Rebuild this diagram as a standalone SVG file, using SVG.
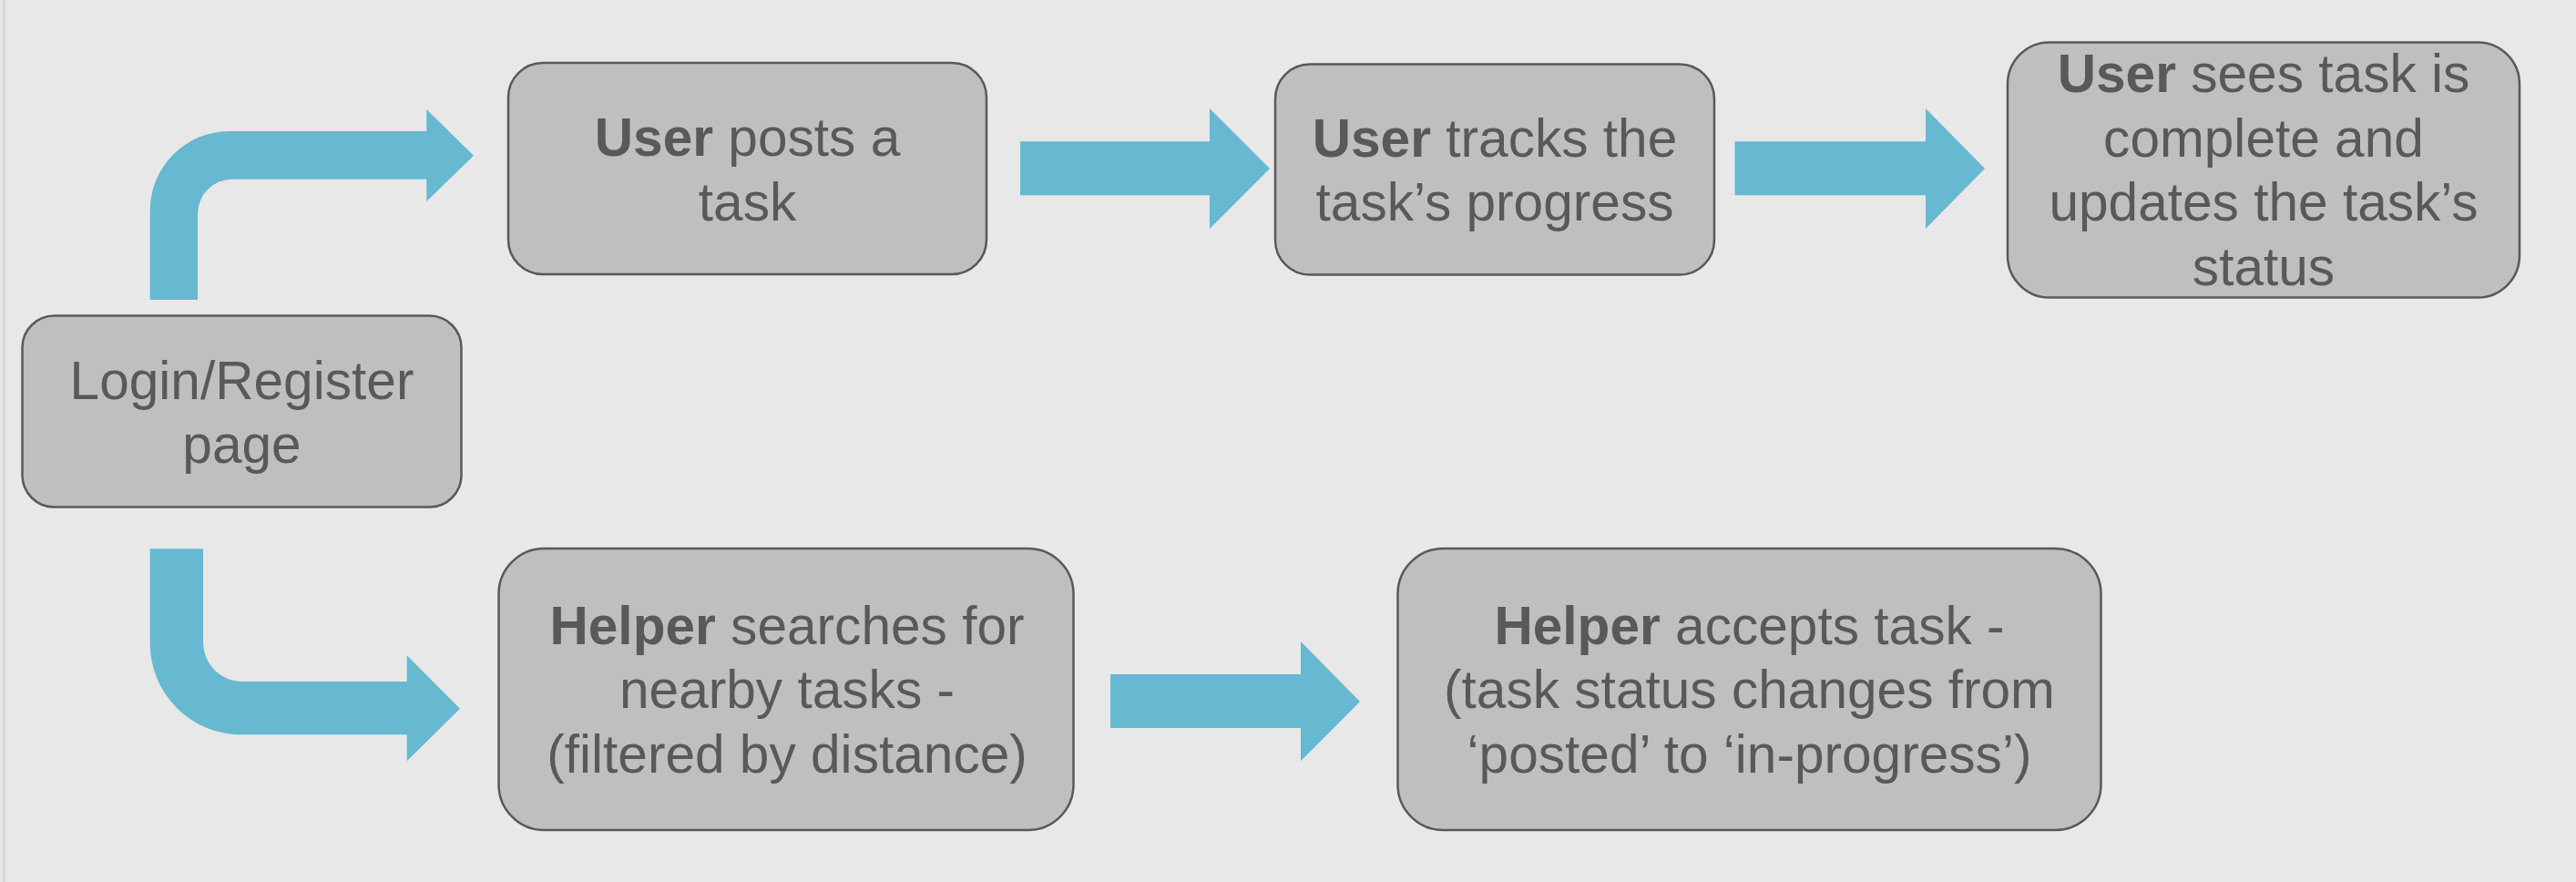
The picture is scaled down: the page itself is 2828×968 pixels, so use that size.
<svg xmlns="http://www.w3.org/2000/svg" width="2828" height="968" viewBox="0 0 2828 968">
<style>
.node rect{fill:#bfbfbf;stroke:#595959;stroke-width:2.5}
.node text{font-family:"Liberation Sans",Arial,sans-serif;font-size:58.6px;fill:#595959;text-anchor:middle}
.b{font-weight:bold}
.arrow{fill:#67b8d1;stroke:none}
</style>
<rect x="0" y="0" width="2828" height="968" fill="#e8e8e8"/>
<rect x="3.5" y="0" width="2" height="968" fill="#d2d2d2"/>
<g id="connectors">
<path class="arrow" d="M164.7,329 L164.7,231 A87,87 0 0 1 251.7,144 L468.3,144 L468.3,120 L520,170.7 L468.3,221 L468.3,196.7 L255,196.7 A38,38 0 0 0 217,234.7 L217,329 Z"/>
<path class="arrow" d="M164.7,602.3 L223,602.3 L223,705 A43,43 0 0 0 266,748 L446.7,748 L446.7,719.3 L505,777.7 L446.7,835.3 L446.7,806.3 L265,806.3 A100.3,100.3 0 0 1 164.7,706 Z"/>
<path class="arrow" d="M1120,155.3 L1328,155.3 L1328,119 L1394,185 L1328,251 L1328,214.3 L1120,214.3 Z"/>
<path class="arrow" d="M1904.5,155.3 L2114,155.3 L2114,119 L2179,185 L2114,251 L2114,214.3 L1904.5,214.3 Z"/>
<path class="arrow" d="M1219,740 L1428,740 L1428,704 L1493,770 L1428,835.3 L1428,799 L1219,799 Z"/>
</g>
<g id="login" class="node">
<rect x="24.5" y="346.5" width="482" height="210" rx="35"/>
<text x="265.5" y="437.5">Login/Register</text>
<text x="265.5" y="507.5">page</text>
</g>
<g id="posts" class="node">
<rect x="558" y="69" width="525" height="232" rx="38"/>
<text x="820.5" y="171"><tspan class="b">User</tspan> posts a</text>
<text x="820.5" y="241.5">task</text>
</g>
<g id="tracks" class="node">
<rect x="1400" y="70.5" width="482" height="231" rx="38"/>
<text x="1641" y="171.5"><tspan class="b">User</tspan> tracks the</text>
<text x="1641" y="242.3">task’s progress</text>
</g>
<g id="complete" class="node">
<rect x="2204" y="46.5" width="562" height="280" rx="46"/>
<text x="2485" y="100.7"><tspan class="b">User</tspan> sees task is</text>
<text x="2485" y="171.5">complete and</text>
<text x="2485" y="242.3">updates the task’s</text>
<text x="2485" y="313.3">status</text>
</g>
<g id="search" class="node">
<rect x="547.5" y="602" width="631" height="309" rx="50"/>
<text x="864" y="706.7"><tspan class="b">Helper</tspan> searches for</text>
<text x="864" y="777.3">nearby tasks -</text>
<text x="864" y="848.3">(filtered by distance)</text>
</g>
<g id="accept" class="node">
<rect x="1534.5" y="602" width="772" height="309" rx="50"/>
<text x="1920.5" y="706.7"><tspan class="b">Helper</tspan> accepts task -</text>
<text x="1920.5" y="777.3">(task status changes from</text>
<text x="1920.5" y="848.3">‘posted’ to ‘in-progress’)</text>
</g>
</svg>
